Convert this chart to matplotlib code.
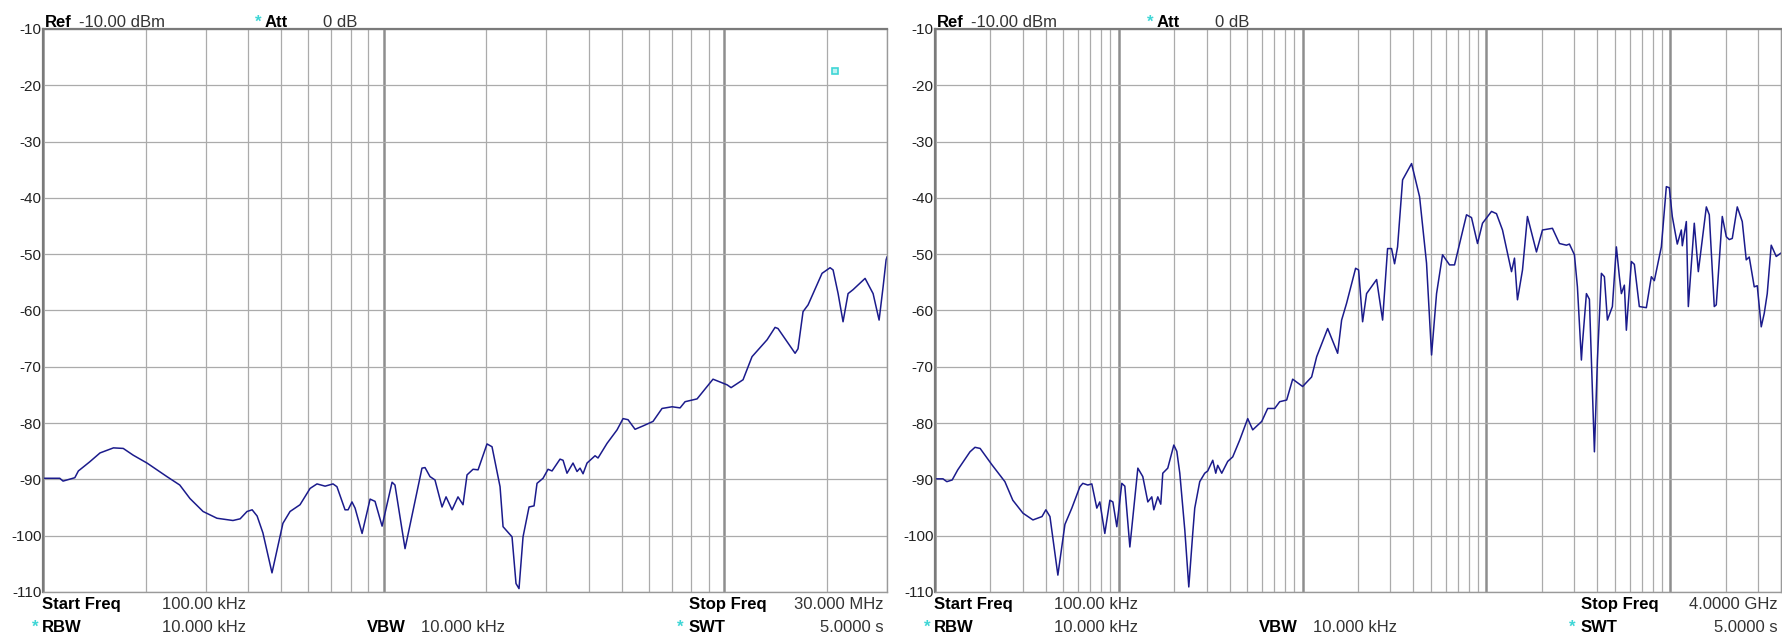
import matplotlib
matplotlib.use("Agg")
import matplotlib.pyplot as plt
from matplotlib.ticker import LogLocator, NullFormatter

plt.rcParams['font.family'] = ['Liberation Sans', 'DejaVu Sans']

# left sweep: 100 kHz .. 30 MHz  (frequency in MHz, level in dBm)
freq_a = [0.100, 0.112, 0.1145, 0.124, 0.127, 0.137, 0.147, 0.161, 0.172, 0.184,
          0.202, 0.231, 0.252, 0.270, 0.295, 0.324, 0.361, 0.379, 0.397, 0.411,
          0.425, 0.442, 0.470, 0.506, 0.531, 0.568, 0.608, 0.637, 0.673, 0.710,
          0.729, 0.770, 0.786, 0.807, 0.824, 0.864, 0.912, 0.943, 0.989, 1.058,
          1.079, 1.155, 1.295, 1.322, 1.367, 1.414, 1.483, 1.524, 1.587, 1.652,
          1.709, 1.756, 1.829, 1.892, 2.010, 2.079, 2.195, 2.240, 2.380, 2.445,
          2.495, 2.564, 2.670, 2.762, 2.818, 2.935, 3.036, 3.119, 3.292, 3.360,
          3.451, 3.594, 3.693, 3.769, 3.846, 3.951, 4.171, 4.256, 4.523, 4.840,
          5.040, 5.213, 5.466, 5.770, 6.172, 6.559, 7.020, 7.410, 7.664, 8.312,
          9.257, 10.18, 10.46, 11.34, 12.05, 13.34, 14.08, 14.36, 16.12, 16.44,
          17.01, 17.60, 19.34, 20.42, 20.84, 21.56, 22.29, 23.06, 23.85, 25.87,
          27.31, 28.44, 29.22, 29.82, 30.0]
level_a = [-89.8, -89.8, -90.3, -89.7, -88.5, -86.9, -85.3, -84.4, -84.5, -85.7,
           -87.1, -89.5, -91.0, -93.4, -95.7, -96.9, -97.3, -97.0, -95.7, -95.4,
           -96.5, -99.5, -106.6, -97.8, -95.7, -94.5, -91.6, -90.8, -91.2, -90.8,
           -91.3, -95.4, -95.4, -94.0, -95.1, -99.6, -93.5, -93.9, -98.3, -90.5,
           -91.0, -102.3, -88.0, -87.9, -89.5, -90.1, -94.9, -93.1, -95.4, -93.1,
           -94.5, -89.2, -88.2, -88.3, -83.7, -84.2, -91.3, -98.4, -100.2, -108.5,
           -109.4, -100.2, -94.9, -94.7, -90.7, -89.8, -88.2, -88.5, -86.4, -86.6,
           -88.9, -87.1, -88.6, -88.0, -89.0, -87.1, -85.8, -86.2, -83.6, -81.2,
           -79.2, -79.4, -81.1, -80.5, -79.7, -77.4, -77.1, -77.3, -76.2, -75.7,
           -72.2, -73.2, -73.7, -72.3, -68.2, -65.2, -63.0, -63.2, -67.6, -66.8,
           -60.2, -59.0, -53.4, -52.4, -52.8, -57.0, -62.0, -57.0, -56.3, -54.3,
           -57.0, -61.7, -55.8, -51.0, -50.5]

# right sweep: 100 kHz .. 4 GHz
freq_b = [0.100, 0.1105, 0.116, 0.124, 0.133, 0.155, 0.165, 0.176, 0.204, 0.240,
          0.265, 0.301, 0.341, 0.382, 0.401, 0.422, 0.438, 0.466, 0.509, 0.555,
          0.614, 0.637, 0.678, 0.713, 0.759, 0.788, 0.839, 0.894, 0.928, 0.975,
          1.038, 1.078, 1.148, 1.269, 1.350, 1.438, 1.511, 1.550, 1.629, 1.691,
          1.734, 1.846, 1.991, 2.067, 2.146, 2.285, 2.402, 2.525, 2.588, 2.755,
          2.933, 3.045, 3.243, 3.367, 3.451, 3.629, 3.912, 4.165, 4.547, 5.025,
          5.349, 5.989, 6.452, 7.045, 7.499, 8.185, 8.824, 10.0, 11.19, 11.92,
          13.68, 15.50, 16.29, 17.34, 19.41, 20.15, 21.19, 22.27, 25.25, 27.22,
          28.97, 30.45, 31.62, 32.83, 34.96, 39.13, 43.25, 47.19, 50.25, 53.50,
          57.67, 62.96, 67.01, 77.86, 82.89, 89.36, 95.13, 106.5, 113.3, 122.2,
          136.8, 142.0, 147.4, 157.0, 167.0, 187.0, 201.6, 228.4, 249.4, 272.2,
          282.6, 300.8, 312.3, 328.3, 332.4, 349.6, 362.9, 386.4, 401.2, 421.7,
          437.8, 454.7, 484.0, 508.8, 528.3, 541.7, 562.3, 576.6, 613.8, 637.2,
          678.3, 740.6, 788.4, 818.5, 893.6, 951.3, 987.6, 1025, 1091, 1148,
          1162, 1222, 1253, 1350, 1420, 1570, 1629, 1734, 1778, 1917,
          2016, 2093, 2173, 2313, 2462, 2588, 2687, 2861, 2971, 3123,
          3243, 3367, 3539, 3768, 4000]
level_b = [-89.9, -89.9, -90.4, -90.1, -88.3, -85.1, -84.3, -84.5, -87.4, -90.4,
           -93.7, -96.0, -97.2, -96.6, -95.4, -96.6, -100.5, -107.0, -98.0, -95.1,
           -91.3, -90.7, -91.0, -90.8, -95.1, -94.0, -99.6, -93.7, -94.0, -98.4,
           -90.7, -91.2, -102.0, -88.0, -89.5, -94.0, -93.1, -95.4, -93.1, -94.4,
           -88.9, -88.0, -83.9, -85.0, -88.9, -99.0, -109.1, -99.5, -95.1, -90.4,
           -88.9, -88.5, -86.6, -88.9, -87.5, -88.9, -86.8, -86.0, -83.0, -79.2,
           -81.2, -79.7, -77.4, -77.4, -76.2, -75.9, -72.2, -73.5, -71.8, -68.2,
           -63.2, -67.6, -61.7, -58.7, -52.5, -52.8, -62.0, -57.0, -54.5, -61.7,
           -49.0, -49.0, -51.7, -48.7, -36.8, -33.9, -39.8, -51.6, -67.9, -57.0,
           -50.1, -51.9, -51.9, -43.0, -43.5, -48.1, -44.5, -42.4, -42.8, -45.7,
           -53.1, -50.7, -58.1, -52.8, -43.3, -49.6, -45.7, -45.4, -48.1, -48.4,
           -48.2, -50.1, -55.8, -68.8, -66.0, -57.0, -58.0, -85.1, -68.8, -53.4,
           -54.0, -61.7, -59.3, -48.7, -54.0, -57.0, -55.5, -63.5, -51.3, -51.8,
           -59.3, -59.5, -54.0, -54.7, -48.7, -38.0, -38.2, -43.3, -48.2, -45.7,
           -48.5, -44.2, -59.3, -44.5, -53.1, -41.6, -43.0, -59.3, -59.0, -43.3,
           -46.9, -47.4, -47.2, -41.6, -44.2, -51.0, -50.5, -55.8, -55.6, -62.9,
           -60.5, -57.0, -48.4, -50.4, -49.8]

y_ticks = [-10, -20, -30, -40, -50, -60, -70, -80, -90, -100, -110]
marker_a = (21.1, -17.4)

panels = [
    dict(f=freq_a, y=level_a, stop=30.0, stop_txt="30.000 MHz", left=43, width=844),
    dict(f=freq_b, y=level_b, stop=4000.0, stop_txt="4.0000 GHz", left=935, width=846),
]

W, H = 1783, 637
fig = plt.figure(figsize=(W / 100, H / 100), dpi=100)
top, bottom = 29, 592

trace_col = "#1b1b8c"
cyan = "#3fd6d6"
txt_col = "#333333"


def px_text(x, y, s, **kw):
    fig.text(x / W, 1 - y / H, s, **kw)


for p in panels:
    ax = fig.add_axes([p["left"] / W, 1 - bottom / H, p["width"] / W, (bottom - top) / H])
    ax.plot(p["f"], p["y"], color=trace_col, lw=1.1)
    ax.set_xscale("log")
    ax.set_xlim(0.1, p["stop"])
    ax.set_ylim(-110, -10)
    ax.set_yticks(y_ticks)
    ax.set_yticklabels([str(v) for v in y_ticks], fontsize=11, color="#222222")
    ax.xaxis.set_major_locator(LogLocator(base=10))
    ax.xaxis.set_minor_locator(LogLocator(base=10, subs=range(2, 10)))
    ax.xaxis.set_major_formatter(NullFormatter())
    ax.xaxis.set_minor_formatter(NullFormatter())
    ax.tick_params(which="both", length=0, pad=1)
    ax.grid(axis="x", which="major", color="#8e8e8e", lw=1.8)
    ax.grid(axis="x", which="minor", color="#ababab", lw=0.9)
    ax.grid(axis="y", which="major", color="#ababab", lw=0.9)
    for side in ["top", "left"]:
        ax.spines[side].set_color("#7a7a7a")
        ax.spines[side].set_linewidth(1.6)
    for side in ["bottom", "right"]:
        ax.spines[side].set_color("#9a9a9a")
        ax.spines[side].set_linewidth(1.0)

    L = p["left"]
    R = p["left"] + p["width"]
    fs = 12
    px_text(L + 2, 27, "Ref", fontsize=fs, fontweight="bold", va="baseline")
    px_text(L + 36, 27, "-10.00 dBm", fontsize=fs, color=txt_col, va="baseline")
    px_text(L + 212, 27, "*", fontsize=fs, color=cyan, fontweight="bold", va="baseline")
    px_text(L + 222, 27, "Att", fontsize=fs, fontweight="bold", va="baseline")
    px_text(L + 280, 27, "0 dB", fontsize=fs, color=txt_col, va="baseline")

    px_text(L - 1, 609, "Start Freq", fontsize=fs, fontweight="bold", va="baseline")
    px_text(L + 119, 609, "100.00 kHz", fontsize=fs, color=txt_col, va="baseline")
    px_text(L + 646, 609, "Stop Freq", fontsize=fs, fontweight="bold", va="baseline")
    px_text(R - 3, 609, p["stop_txt"], fontsize=fs, color=txt_col, va="baseline", ha="right")

    px_text(L - 11, 632, "*", fontsize=fs, color=cyan, fontweight="bold", va="baseline")
    px_text(L - 1, 632, "RBW", fontsize=fs, fontweight="bold", va="baseline")
    px_text(L + 119, 632, "10.000 kHz", fontsize=fs, color=txt_col, va="baseline")
    px_text(L + 324, 632, "VBW", fontsize=fs, fontweight="bold", va="baseline")
    px_text(L + 378, 632, "10.000 kHz", fontsize=fs, color=txt_col, va="baseline")
    px_text(L + 634, 632, "*", fontsize=fs, color=cyan, fontweight="bold", va="baseline")
    px_text(L + 646, 632, "SWT", fontsize=fs, fontweight="bold", va="baseline")
    px_text(R - 3, 632, "5.0000 s", fontsize=fs, color=txt_col, va="baseline", ha="right")

    if p["f"] is freq_a:
        ax.plot([marker_a[0]], [marker_a[1]], marker="s", ms=5, mfc="#bff3f3",
                mec=cyan, mew=1.2, linestyle="none")

fig.savefig("out.png", dpi=100)
